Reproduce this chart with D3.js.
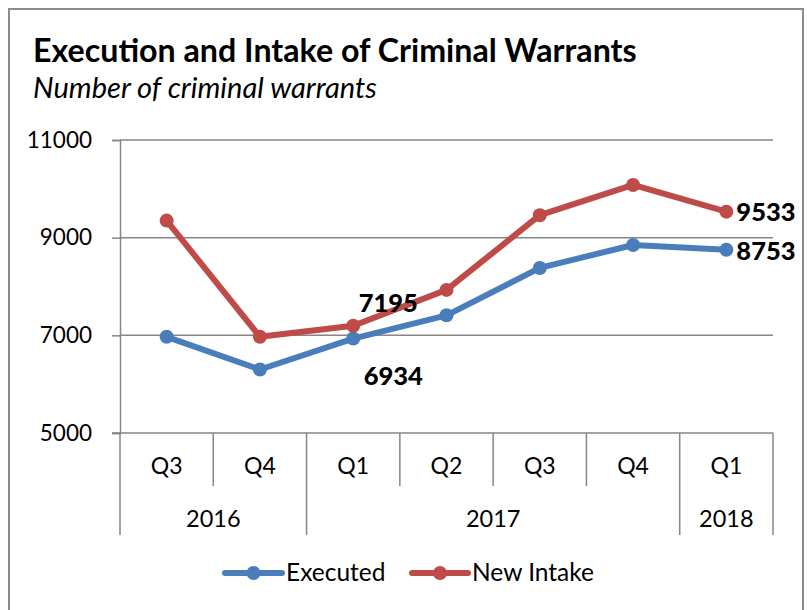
<!DOCTYPE html>
<html><head><meta charset="utf-8">
<script src="https://cdn.jsdelivr.net/npm/d3@7"></script>
<style>body{margin:0;background:#fff}svg{display:block}text{font-family:Lato,"Open Sans",sans-serif}</style>
</head><body><svg id="c" width="807" height="610"></svg>
<script>
const quarters = ["Q3","Q4","Q1","Q2","Q3","Q4","Q1"];
const years = [{label:"2016",start:0,end:2},{label:"2017",start:2,end:6},{label:"2018",start:6,end:7}];
const executed = [6970,6300,6934,7410,8380,8850,8753];
const newIntake = [9350,6970,7195,7930,9460,10080,9533];
const yTicks = [5000,7000,9000,11000];
const seriesNames = ["Executed","New Intake"];
const colors = ["#4a7ebb","#be4b48"];

const svg = d3.select("#c");
svg.append("rect").attr("x",9).attr("y",9).attr("width",794).attr("height",620)
  .attr("fill","#fff").attr("stroke","#8c8c8c").attr("stroke-width",2);

function fitText(sel, target){
  const w = sel.node().getComputedTextLength();
  const fs = parseFloat(sel.attr("font-size"));
  sel.attr("font-size", fs*target/w);
}
const title = svg.append("text").attr("x",33).attr("y",62).attr("font-size",26).attr("font-weight","bold").attr("fill","#000")
  .text("Execution and Intake of Criminal Warrants");
fitText(title, 604);
const sub = svg.append("text").attr("x",33).attr("y",98).attr("font-size",22).attr("font-style","italic").attr("fill","#000")
  .text("Number of criminal warrants");
fitText(sub, 344);

const L=120,R=773,T=140,B=433;
const x = d3.scaleBand().domain(d3.range(quarters.length)).range([L,R]).padding(0);
const y = d3.scaleLinear().domain([5000,11000]).range([B,T]);

const gy = svg.append("g").attr("transform",`translate(${L},0)`)
  .call(d3.axisLeft(y).tickValues(yTicks).tickSize(8).tickPadding(20).tickFormat(d3.format("d")));
gy.select(".domain").attr("stroke","#868686").attr("stroke-width",1.5);
gy.selectAll(".tick line").attr("stroke","#868686").attr("stroke-width",1.5);
gy.selectAll(".tick text").attr("font-size",22.5).attr("fill","#000").attr("font-family","Lato,sans-serif");
svg.append("g").selectAll("line").data(yTicks.filter(v=>v>5000)).join("line")
  .attr("x1",L).attr("x2",R).attr("y1",d=>y(d)).attr("y2",d=>y(d))
  .attr("stroke","#868686").attr("stroke-width",1.5);
svg.append("line").attr("x1",L-8).attr("x2",R).attr("y1",B).attr("y2",B).attr("stroke","#868686").attr("stroke-width",1.5);

const bounds = d3.range(quarters.length+1);
const longB = new Set([0,2,6,7]);
svg.append("g").selectAll("line").data(bounds).join("line")
  .attr("x1",i=>i<quarters.length? x(i): R).attr("x2",i=>i<quarters.length? x(i): R)
  .attr("y1",B).attr("y2",i=>longB.has(i)?535:486)
  .attr("stroke","#868686").attr("stroke-width",1.5);
svg.append("g").selectAll("text").data(quarters).join("text")
  .attr("x",(d,i)=>x(i)+x.bandwidth()/2).attr("y",474).attr("text-anchor","middle")
  .attr("font-size",23).attr("fill","#000").text(d=>d);
svg.append("g").selectAll("text").data(years).join("text")
  .attr("x",d=>(x(d.start)+(d.end<quarters.length?x(d.end):R))/2).attr("y",527).attr("text-anchor","middle")
  .attr("font-size",23.5).attr("fill","#000").text(d=>d.label);

const line = d3.line().x((d,i)=>x(i)+x.bandwidth()/2).y(d=>y(d));
[executed,newIntake].forEach((s,k)=>{
  svg.append("path").datum(s).attr("d",line).attr("fill","none").attr("stroke",colors[k])
    .attr("stroke-width",6).attr("stroke-linejoin","round").attr("stroke-linecap","round");
  svg.append("g").selectAll("circle").data(s).join("circle")
    .attr("cx",(d,i)=>x(i)+x.bandwidth()/2).attr("cy",d=>y(d)).attr("r",7).attr("fill",colors[k]);
});

const lbl = (t,xx,yy,anchor)=>svg.append("text").attr("x",xx).attr("y",yy).attr("text-anchor",anchor)
  .attr("font-size",25.5).attr("font-weight","900").attr("fill","#000").text(t);
const cx = i=>x(i)+x.bandwidth()/2;
lbl(newIntake[2], cx(2)+35, y(newIntake[2])-14, "middle");
lbl(executed[2], cx(2)+40, y(executed[2])+46, "middle");
lbl(newIntake[6], cx(6)+10, y(newIntake[6])+9, "start");
lbl(executed[6], cx(6)+10, y(executed[6])+10, "start");

const lg = [{x1:225,x2:282,tx:286},{x1:412,x2:468,tx:472}];
lg.forEach((p,k)=>{
  svg.append("line").attr("x1",p.x1).attr("x2",p.x2).attr("y1",573).attr("y2",573)
    .attr("stroke",colors[k]).attr("stroke-width",6).attr("stroke-linecap","round");
  svg.append("circle").attr("cx",(p.x1+p.x2)/2).attr("cy",573).attr("r",7).attr("fill",colors[k]);
  svg.append("text").attr("x",p.tx).attr("y",581).attr("font-size",24.5).attr("fill","#000").text(seriesNames[k]);
});
</script></body></html>
